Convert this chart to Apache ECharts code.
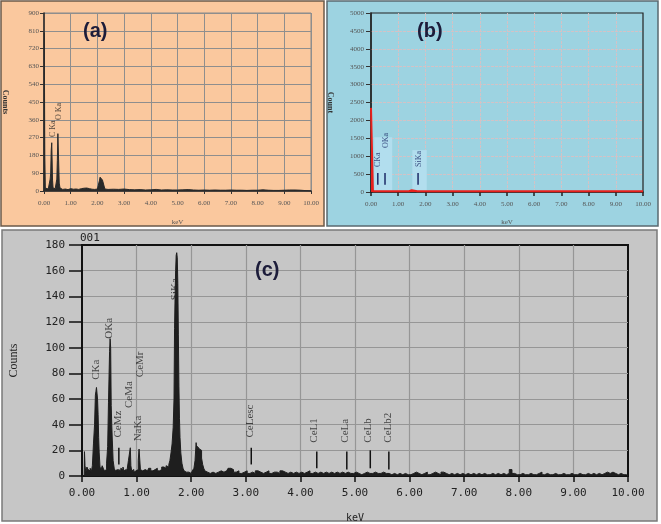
<!DOCTYPE html>
<html><head><meta charset="utf-8">
<script src="https://cdn.jsdelivr.net/npm/echarts@6/dist/echarts.min.js"></script>
<style>html,body{margin:0;padding:0;background:#fff}#c{width:661px;height:524px}</style>
</head><body><div id="c"></div>
<script>
// ---------- Panel (a) spectrum [keV, counts] ----------
const spectrumA = [
[0,0],[0.01,800],[0.02,800],[0.03,180],[0.05,15],[0.08,5],[0.12,8],[0.16,10],[0.2,20],[0.23,60],[0.25,90],[0.27,205],[0.29,244],[0.31,240],[0.32,55],[0.34,15],[0.38,10],[0.42,12],[0.45,20],[0.48,60],[0.5,155],[0.52,290],[0.54,295],[0.56,290],[0.57,40],[0.6,15],[0.65,10],[0.7,8],[0.8,10],[0.9,7],[1.0,12],[1.1,9],[1.2,10],[1.3,8],[1.4,12],[1.5,14],[1.6,15],[1.7,12],[1.8,9],[1.9,8],[2.0,10],[2.05,20],[2.08,55],[2.1,70],[2.13,72],[2.16,65],[2.19,55],[2.22,45],[2.25,25],[2.28,10],[2.4,8],[2.6,9],[2.8,8],[3.0,10],[3.2,7],[3.4,6],[3.6,7],[3.8,5],[4.0,6],[4.2,8],[4.4,5],[4.6,6],[4.8,5],[5.0,5],[5.2,6],[5.4,7],[5.6,5],[5.8,4],[6.0,5],[6.2,4],[6.4,5],[6.6,4],[6.8,4],[7.0,5],[7.2,4],[7.4,4],[7.6,3],[7.8,4],[8.0,4],[8.2,6],[8.4,4],[8.6,3],[8.8,3],[9.0,4],[9.2,5],[9.4,5],[9.6,4],[9.65,0],[10,0]
];
const labelsA = [['C Ka',0.32,273],['O Ka',0.57,359]];

// ---------- Panel (b) spectrum [keV, counts] ----------
const spectrumB = [
[0,2350],[0.06,2350],[0.07,20],[0.2,20],[0.27,60],[0.32,20],[0.48,20],[0.53,60],[0.58,20],[1.4,20],[1.5,50],[1.55,20],[1.7,20],[1.74,70],[1.8,20],[2.05,20],[2.1,60],[2.15,20],[10,20]
];
const markersB = [[0.25,200,530],[0.515,200,530],[1.73,200,530]];
const labelsB = [['CKa',0.26,698],['OKa',0.54,1229],['SiKa',1.76,698]];
// light highlight zones behind the labels: [fromKeV, toKeV, topCounts]
const zonesB = [[0.12,0.78,1530],[1.52,2.05,1170]];

// ---------- Panel (c) spectrum [keV, counts] ----------
const spectrumC = [
[0,0],[0.04,0],[0.05,19],[0.06,8],[0.08,3],[0.1,7],[0.12,5],[0.14,4],[0.16,6],[0.18,3],[0.2,8],[0.22,25],[0.24,40],[0.25,63],[0.26,66],[0.27,69],[0.28,68],[0.29,60],[0.3,48],[0.31,30],[0.32,18],[0.34,7],[0.36,5],[0.38,8],[0.4,6],[0.42,4],[0.44,5],[0.46,10],[0.48,23],[0.49,57],[0.5,58],[0.51,97],[0.52,107],[0.53,100],[0.54,55],[0.55,40],[0.56,28],[0.58,12],[0.6,6],[0.62,4],[0.64,5],[0.66,3],[0.68,5],[0.7,4],[0.72,6],[0.74,5],[0.76,7],[0.78,4],[0.8,5],[0.82,3],[0.84,6],[0.86,12],[0.88,13],[0.89,22],[0.9,8],[0.92,4],[0.94,5],[0.96,3],[0.98,4],[1.0,3],[1.02,5],[1.04,12],[1.05,21],[1.06,20],[1.08,5],[1.1,4],[1.12,3],[1.16,5],[1.2,4],[1.24,6],[1.28,4],[1.32,5],[1.36,6],[1.4,4],[1.44,5],[1.48,7],[1.52,6],[1.56,8],[1.58,7],[1.6,9],
[1.62,12],[1.64,18],[1.66,25],[1.68,38],[1.69,60],[1.7,115],[1.71,140],[1.72,160],[1.73,172],[1.74,174],[1.75,170],[1.76,150],[1.77,110],[1.78,70],[1.79,45],[1.8,30],[1.82,18],[1.84,10],[1.86,6],[1.88,4],[1.9,3],[1.92,4],[1.96,3],[2.0,2],[2.04,4],[2.06,6],[2.08,12],[2.1,26],[2.11,20],[2.12,23],[2.14,22],[2.16,21],[2.18,20],[2.2,14],[2.22,9],[2.24,6],[2.26,4],[2.3,3],
[2.35,2],[2.4,3],[2.45,2],[2.5,3],[2.55,4],[2.6,3],[2.65,4],[2.7,6],[2.75,5],[2.8,3],[2.85,4],[2.9,2],[2.95,3],[3.0,4],[3.05,2],[3.1,3],[3.15,2],[3.2,4],[3.25,3],[3.3,2],[3.35,3],[3.4,4],[3.45,2],[3.5,3],[3.55,3],[3.6,2],[3.65,4],[3.7,3],[3.75,2],[3.8,3],[3.85,2],[3.9,3],[3.95,2],[4.0,3],[4.05,2],[4.1,3],[4.15,4],[4.2,2],[4.25,3],[4.3,2],[4.35,3],[4.4,2],[4.45,3],[4.5,2],[4.55,3],[4.6,2],[4.65,3],[4.7,2],[4.75,3],[4.8,2],[4.85,3],[4.9,2],[4.95,2],
[5.0,3],[5.05,2],[5.1,1],[5.15,2],[5.2,3],[5.25,2],[5.3,2],[5.35,3],[5.4,2],[5.45,2],[5.5,3],[5.55,2],[5.6,2],[5.65,1],[5.7,2],[5.75,1],[5.8,2],[5.85,1],[5.9,2],[5.95,1],[6.0,1],[6.05,2],[6.1,3],[6.15,2],[6.2,1],[6.25,2],[6.3,3],[6.35,1],[6.4,2],[6.45,3],[6.5,2],[6.55,1],[6.6,3],[6.65,2],[6.7,1],[6.75,2],[6.8,1],[6.85,2],[6.9,1],[6.95,2],[7.0,1],[7.05,2],[7.1,1],[7.15,2],[7.2,1],[7.25,2],[7.3,1],[7.35,2],[7.4,1],[7.45,1],[7.5,2],[7.55,1],[7.6,2],[7.65,1],[7.7,2],[7.75,1],[7.8,2],[7.85,5],[7.9,2],[7.95,1],
[8.0,1],[8.05,2],[8.1,1],[8.15,1],[8.2,2],[8.25,1],[8.3,1],[8.35,2],[8.4,3],[8.45,1],[8.5,2],[8.55,1],[8.6,1],[8.65,2],[8.7,1],[8.75,1],[8.8,2],[8.85,1],[8.9,1],[8.95,2],[9.0,1],[9.05,1],[9.1,2],[9.15,1],[9.2,1],[9.25,2],[9.3,1],[9.35,2],[9.4,1],[9.45,2],[9.5,1],[9.55,2],[9.6,3],[9.65,2],[9.7,3],[9.75,2],[9.8,1],[9.85,2],[9.9,1],[9.95,1],[10,0]
];
const markersC = [[0.675,9,22],[3.10,9,22],[4.30,6,19],[4.85,5,19],[5.28,6,20],[5.62,5,19]];
const labelsC = [['CKa',0.255,75],['OKa',0.49,107],['CeMz',0.66,30],['CeMa',0.86,53],['NaKa',1.02,27],['CeMr',1.06,77],['SiKa',1.70,137],['CeLesc',3.08,30],['CeL1',4.25,26],['CeLa',4.82,26],['CeLb',5.24,26],['CeLb2',5.60,26]];

const yTicksA = {min:0,max:900,interval:90};
const yTicksB = {min:0,max:5000,interval:500};
const yTicksC = {min:0,max:180,interval:20};

const chart = echarts.init(document.getElementById('c'), null, {renderer:'canvas'});
const kev = v => v.toFixed(2);
const plain = v => String(v);
const serif = 'Liberation Serif';
const mono = 'DejaVu Sans Mono';

function markerSeries(xi, data, color, w){
  return {type:'custom', xAxisIndex:xi, yAxisIndex:xi, data:data, silent:true, z:5,
    renderItem:(p, api)=>{const a=api.coord([api.value(0),api.value(1)]);const b=api.coord([api.value(0),api.value(2)]);
      return {type:'line', shape:{x1:a[0],y1:a[1],x2:b[0],y2:b[1]}, style:{stroke:color,lineWidth:w}};}};
}
function labelSeries(xi, data, size, color){
  return {type:'scatter', xAxisIndex:xi, yAxisIndex:xi, symbolSize:1, silent:true, z:6,
    itemStyle:{color:'rgba(0,0,0,0)'},
    data:data.map(d=>({name:d[0], value:[d[1],d[2]]})),
    label:{show:true, formatter:'{b}', position:'inside', rotate:90, align:'left', verticalAlign:'middle',
      fontFamily:serif, fontSize:size, color:color}};
}

const option = {
  animation:false,
  graphic:[
    {type:'rect', shape:{x:1,y:1,width:323,height:225}, style:{fill:'#FAC89E', stroke:'#6b5a4a', lineWidth:1.5}, z:-10},
    {type:'rect', shape:{x:327,y:1,width:331,height:225}, style:{fill:'#9DD3E1', stroke:'#5a6a70', lineWidth:1.5}, z:-10},
    {type:'rect', shape:{x:2,y:230,width:655,height:291}, style:{fill:'#C6C6C6', stroke:'#7a7a7a', lineWidth:1.5}, z:-10},
    {type:'text', left:83, top:21, style:{text:'(a)', font:'bold 20px "Liberation Sans"', fill:'#1c1c3a'}, z:10},
    {type:'text', left:417, top:21, style:{text:'(b)', font:'bold 20px "Liberation Sans"', fill:'#1c1c3a'}, z:10},
    {type:'text', left:255, top:260, style:{text:'(c)', font:'bold 20px "Liberation Sans"', fill:'#1c1c3a'}, z:10},
    {type:'text', left:80, top:233, style:{text:'001', font:'11px "DejaVu Sans Mono"', fill:'#222'}, z:10}
  ],
  grid:[
    {left:43, top:13, width:268, height:178, show:true, borderColor:'#8a8a8a', borderWidth:1, backgroundColor:'transparent'},
    {left:371, top:13, width:272, height:179, show:true, borderColor:'#222', borderWidth:1.2, backgroundColor:'transparent'},
    {left:80, top:245, width:548, height:231, show:true, borderColor:'#111', borderWidth:2, backgroundColor:'transparent'}
  ],
  xAxis:[
    {gridIndex:0, type:'value', min:0, max:10, interval:1, name:'keV', nameLocation:'middle', nameGap:28,
      nameTextStyle:{fontFamily:serif, fontSize:7, color:'#555'},
      axisLine:{show:true, onZero:false, lineStyle:{color:'#222', width:1.5}},
      axisTick:{show:true, length:3, lineStyle:{color:'#333'}},
      axisLabel:{formatter:kev, fontFamily:serif, fontSize:7, color:'#555', margin:9},
      splitLine:{show:true, showMinLine:false, lineStyle:{color:'#8e8e8e', width:1}}},
    {gridIndex:1, type:'value', min:0, max:10, interval:1, name:'keV', nameLocation:'middle', nameGap:27,
      nameTextStyle:{fontFamily:serif, fontSize:7, color:'#555'},
      axisLine:{show:true, onZero:false, lineStyle:{color:'#222', width:1.5}},
      axisTick:{show:true, length:4, lineStyle:{color:'#222', width:1.5}},
      axisLabel:{formatter:kev, fontFamily:serif, fontSize:7, color:'#555', margin:9},
      splitLine:{show:true, showMinLine:false, showMaxLine:false, lineStyle:{color:'#d3c2c6', width:1, type:[3,1]}}},
    {gridIndex:2, type:'value', min:0, max:10, interval:1, name:'keV', nameLocation:'middle', nameGap:37,
      nameTextStyle:{fontFamily:mono, fontSize:10, color:'#222'},
      axisLine:{show:true, onZero:false, lineStyle:{color:'#111', width:2}},
      axisTick:{show:true, length:6, lineStyle:{color:'#111', width:1.5}},
      axisLabel:{formatter:kev, fontFamily:mono, fontSize:11, color:'#222', margin:12},
      splitLine:{show:true, showMinLine:false, showMaxLine:false, lineStyle:{color:'#969696', width:1.2}}}
  ],
  yAxis:[
    Object.assign({gridIndex:0, type:'value', name:'Counts', nameLocation:'middle', nameGap:35, nameRotate:-90,
      nameTextStyle:{fontFamily:serif, fontSize:8, fontWeight:'bold', color:'#333'},
      axisLine:{show:true, lineStyle:{color:'#222', width:1.5}},
      axisTick:{show:true, length:4, lineStyle:{color:'#333'}},
      axisLabel:{formatter:plain, fontFamily:serif, fontSize:7, color:'#555', margin:5},
      splitLine:{show:true, showMinLine:false, lineStyle:{color:'#8e8e8e', width:1}}}, yTicksA),
    Object.assign({gridIndex:1, type:'value', name:'Count', nameLocation:'middle', nameGap:37, nameRotate:-90,
      nameTextStyle:{fontFamily:serif, fontSize:8, fontWeight:'bold', color:'#333'},
      axisLine:{show:true, lineStyle:{color:'#222', width:1.5}},
      axisTick:{show:true, length:5, lineStyle:{color:'#333'}},
      axisLabel:{formatter:plain, fontFamily:serif, fontSize:7, color:'#555', margin:7},
      splitLine:{show:true, showMinLine:false, showMaxLine:false, lineStyle:{color:'#d3c2c6', width:1, type:[3,1]}}}, yTicksB),
    Object.assign({gridIndex:2, type:'value', name:'Counts', nameLocation:'middle', nameGap:62,
      nameTextStyle:{fontFamily:serif, fontSize:12, color:'#222'},
      axisLine:{show:true, lineStyle:{color:'#111', width:2}},
      axisTick:{show:true, length:13, lineStyle:{color:'#111', width:1.5}},
      axisLabel:{formatter:plain, fontFamily:mono, fontSize:11, color:'#222', margin:17},
      splitLine:{show:true, showMinLine:false, showMaxLine:false, lineStyle:{color:'#969696', width:1.2}}}, yTicksC)
  ],
  series:[
    {type:'line', xAxisIndex:0, yAxisIndex:0, data:spectrumA, symbol:'none', silent:true,
      lineStyle:{color:'#2a2a2a', width:1}, areaStyle:{color:'#2a2a2a', opacity:1}, z:3},
    labelSeries(0, labelsA, 8, '#222'),
    {type:'custom', xAxisIndex:1, yAxisIndex:1, data:zonesB, silent:true, z:1,
      renderItem:(p, api)=>{const a=api.coord([api.value(0),api.value(2)]);const b=api.coord([api.value(1),0]);
        return {type:'rect', shape:{x:a[0],y:a[1],width:b[0]-a[0],height:b[1]-a[1]}, style:{fill:'#B2DEEE'}};}},
    {type:'line', xAxisIndex:1, yAxisIndex:1, data:spectrumB, symbol:'none', silent:true,
      lineStyle:{color:'#e8201c', width:2}, areaStyle:{color:'#e8201c', opacity:1}, z:3},
    markerSeries(1, markersB, '#1c2a66', 1.5),
    labelSeries(1, labelsB, 8, '#1c2a66'),
    {type:'line', xAxisIndex:2, yAxisIndex:2, data:spectrumC, symbol:'none', silent:true, step:'middle',
      lineStyle:{color:'#1e1e1e', width:1}, areaStyle:{color:'#1e1e1e', opacity:1}, z:3},
    markerSeries(2, markersC, '#111', 1.5),
    labelSeries(2, labelsC, 11, '#222')
  ]
};
chart.setOption(option);
</script></body></html>
